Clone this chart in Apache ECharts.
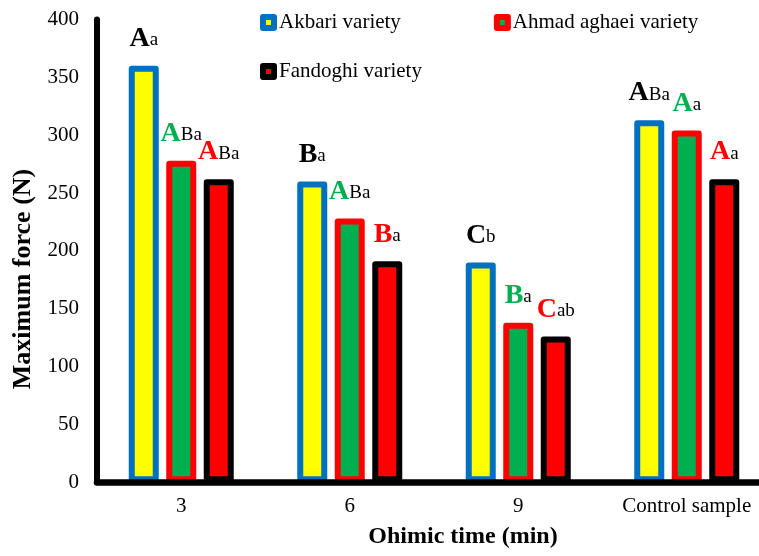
<!DOCTYPE html>
<html>
<head>
<meta charset="utf-8">
<script src="https://cdn.jsdelivr.net/npm/echarts@6/dist/echarts.min.js"></script>
<style>
html,body{margin:0;padding:0;background:#fff;}
#chart{width:759px;height:556px;}
</style>
</head>
<body>
<div id="chart"></div>
<script>
const categories = ['3', '6', '9', 'Control sample'];
const seriesNames = ['Akbari variety', 'Ahmad aghaei variety', 'Fandoghi variety'];
const akbari = [360, 260, 190, 313];
const ahmad = [278, 228, 138, 304];
const fandoghi = [262, 191, 126, 262];
const akbariBig = ['A', 'B', 'C', 'A'];
const akbariSmall = ['a', 'a', 'b', 'Ba'];
const ahmadBig = ['A', 'A', 'B', 'A'];
const ahmadSmall = ['Ba', 'Ba', 'a', 'a'];
const fandoghiBig = ['A', 'B', 'C', 'A'];
const fandoghiSmall = ['Ba', 'a', 'ab', 'a'];
const yMin = 0, yMax = 400, yStep = 50;
const xTitle = 'Ohimic time (min)';
const yTitle = 'Maximum force (N)';

const FONT = '"Liberation Serif", "Times New Roman", serif';

function makeSeries(name, values, big, small, fill, border, bigColor) {
  return {
    name: name,
    type: 'bar',
    data: values,
    barWidth: 30,
    barGap: '25%',
    itemStyle: { color: fill, borderColor: border, borderWidth: 6, borderJoin: 'round' },
    label: {
      show: true,
      position: 'top',
      distance: 13,
      formatter: function (p) { return '{big|' + big[p.dataIndex] + '}{small|' + small[p.dataIndex] + '}'; },
      rich: {
        big: { fontFamily: FONT, fontSize: 28, fontWeight: 'bold', color: bigColor, lineHeight: 28, verticalAlign: 'bottom' },
        small: { fontFamily: FONT, fontSize: 19, color: '#000', lineHeight: 19, verticalAlign: 'bottom', padding: [0, 0, 3, 0] }
      }
    }
  };
}

const chart = echarts.init(document.getElementById('chart'), null, { renderer: 'canvas' });
const legendCommon = {
  padding: 0,
  itemWidth: 11,
  itemHeight: 11,
  icon: 'rect',
  itemStyle: { borderWidth: 6 },
  textStyle: { fontFamily: FONT, fontSize: 21, color: '#000' },
  selectedMode: false
};
chart.setOption({
  backgroundColor: '#fff',
  animation: false,
  legend: [
    Object.assign({}, legendCommon, { data: [seriesNames[0], seriesNames[1]], left: 260, top: 12, itemGap: 93 }),
    Object.assign({}, legendCommon, { data: [seriesNames[2]], left: 260, top: 61 })
  ],
  grid: { left: 97, top: 19.5, width: 674, height: 462.8, containLabel: false, outerBoundsMode: 'none' },
  xAxis: {
    type: 'category',
    data: categories,
    z: 5,
    axisLine: { show: true, lineStyle: { color: '#000', width: 6.5 } },
    axisTick: { show: false },
    axisLabel: { fontFamily: FONT, fontSize: 21, color: '#000', margin: 14, interval: 0 },
    splitLine: { show: false }
  },
  yAxis: {
    type: 'value',
    min: yMin, max: yMax, interval: yStep,
    z: 5,
    axisLine: { show: true, lineStyle: { color: '#000', width: 6 } },
    axisTick: { show: false },
    axisLabel: { fontFamily: FONT, fontSize: 21, color: '#000', margin: 18 },
    splitLine: { show: false }
  },
  graphic: [
    { type: 'text', x: 463, y: 537, style: { text: xTitle, font: 'bold 24px ' + FONT, fill: '#000', align: 'center', verticalAlign: 'middle' } },
    { type: 'text', x: 23, y: 279, rotation: Math.PI / 2, style: { text: yTitle, font: 'bold 26px ' + FONT, fill: '#000', align: 'center', verticalAlign: 'middle' } }
  ],
  series: [
    makeSeries(seriesNames[0], akbari, akbariBig, akbariSmall, '#FFFF00', '#0070C0', '#000'),
    makeSeries(seriesNames[1], ahmad, ahmadBig, ahmadSmall, '#00B050', '#FF0000', '#00B050'),
    makeSeries(seriesNames[2], fandoghi, fandoghiBig, fandoghiSmall, '#FF0000', '#000000', '#FF0000')
  ]
});
</script>
</body>
</html>
